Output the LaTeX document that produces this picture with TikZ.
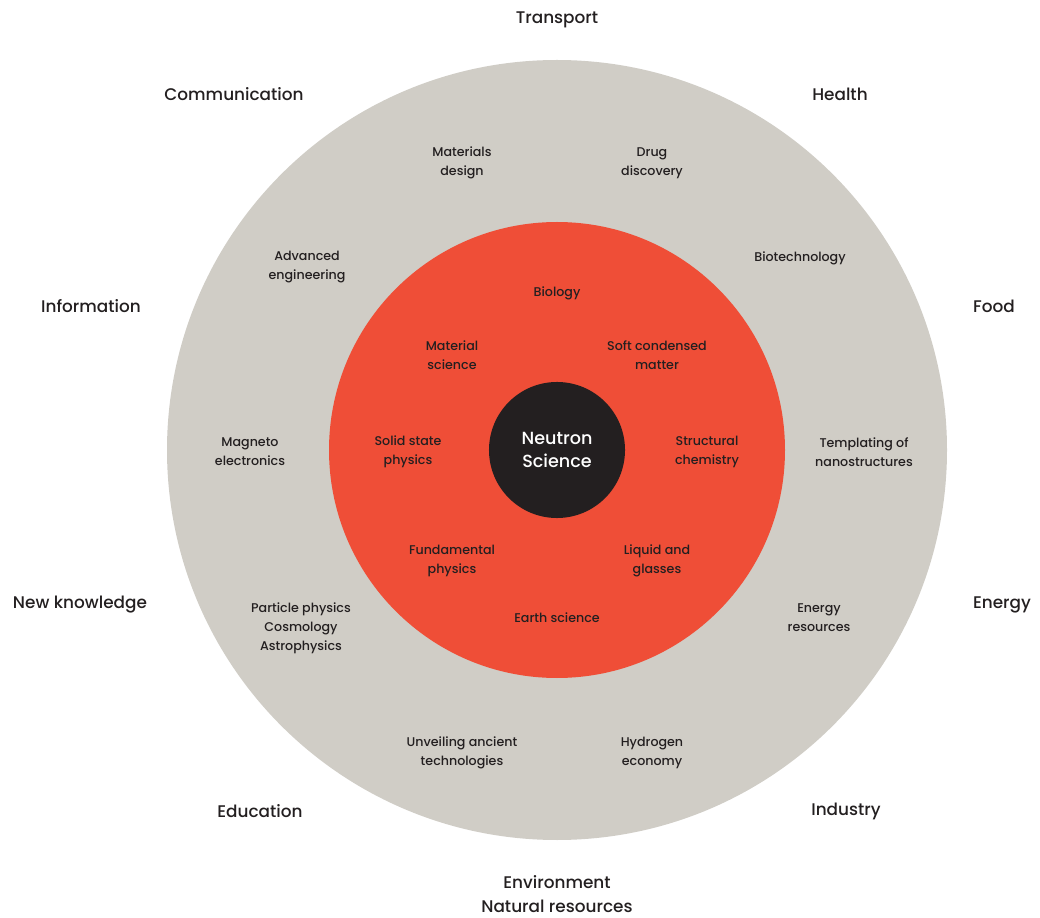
\documentclass[tikz,border=0pt]{standalone}
\usepackage{fontspec}
\setmainfont{Poppins}[UprightFont=* Medium]
\definecolor{ringgray}{HTML}{D0CDC6}
\definecolor{corered}{HTML}{EF4E37}
\definecolor{hubdark}{HTML}{231F20}
\begin{document}
\begin{tikzpicture}
    [x=0.025cm, y=-0.025cm,
     outer/.style={align=center, text=hubdark, font=\fontsize{12}{17}\selectfont},
     ring/.style={align=center, text=hubdark, font=\fontsize{9}{13.5}\selectfont},
     hub/.style={circle, fill=hubdark, minimum size=3.4cm, align=center, text=white, font=\fontsize{12.5}{17}\selectfont}]
    \useasboundingbox (0,0) rectangle (1040,918);
    \fill[ringgray] (557,450) circle (390);
    \fill[corered] (557,450) circle (228);
    \node[hub] (NS) at (557,450) {Neutron\\Science};

    % outer labels
    \node[outer] (trans) at (557,20) {Transport};
    \node[outer] (comm) at (234,94) {Communication};
    \node[outer] (health) at (840,94) {Health};
    \node[outer] (info) at (91,306) {Information};
    \node[outer] (food) at (994,306) {Food};
    \node[outer] (know) at (80,605) {New knowledge};
    \node[outer] (energy) at (1002,605) {Energy};
    \node[outer] (edu) at (260,811) {Education};
    \node[outer] (ind) at (846,811) {Industry};
    \node[outer] (env) at (557,894) {Environment\\Natural resources};

    % gray ring
    \node[ring] (matdes) at (462,163) {Materials\\design};
    \node[ring] (drug) at (652,163) {Drug\\discovery};
    \node[ring] (adveng) at (307,267) {Advanced\\engineering};
    \node[ring] (biotech) at (800,258) {Biotechnology};
    \node[ring] (magneto) at (250,452) {Magneto\\electronics};
    \node[ring] (templ) at (864,452) {Templating of\\nanostructures};
    \node[ring] (particle) at (301,628) {Particle physics\\Cosmology\\Astrophysics};
    \node[ring] (enres) at (819,618) {Energy\\resources};
    \node[ring] (ancient) at (462,753) {Unveiling ancient\\technologies};
    \node[ring] (hydro) at (652,753) {Hydrogen\\economy};

    % red core
    \node[ring] (bio) at (557,293) {Biology};
    \node[ring] (matsci) at (452,355) {Material\\science};
    \node[ring] (soft) at (657,355) {Soft condensed\\matter};
    \node[ring] (solid) at (408,452) {Solid state\\physics};
    \node[ring] (struct) at (707,452) {Structural\\chemistry};
    \node[ring] (fund) at (452,561) {Fundamental\\physics};
    \node[ring] (liquid) at (657,561) {Liquid and\\glasses};
    \node[ring] (earth) at (557,618) {Earth science};
\end{tikzpicture}
\end{document}
